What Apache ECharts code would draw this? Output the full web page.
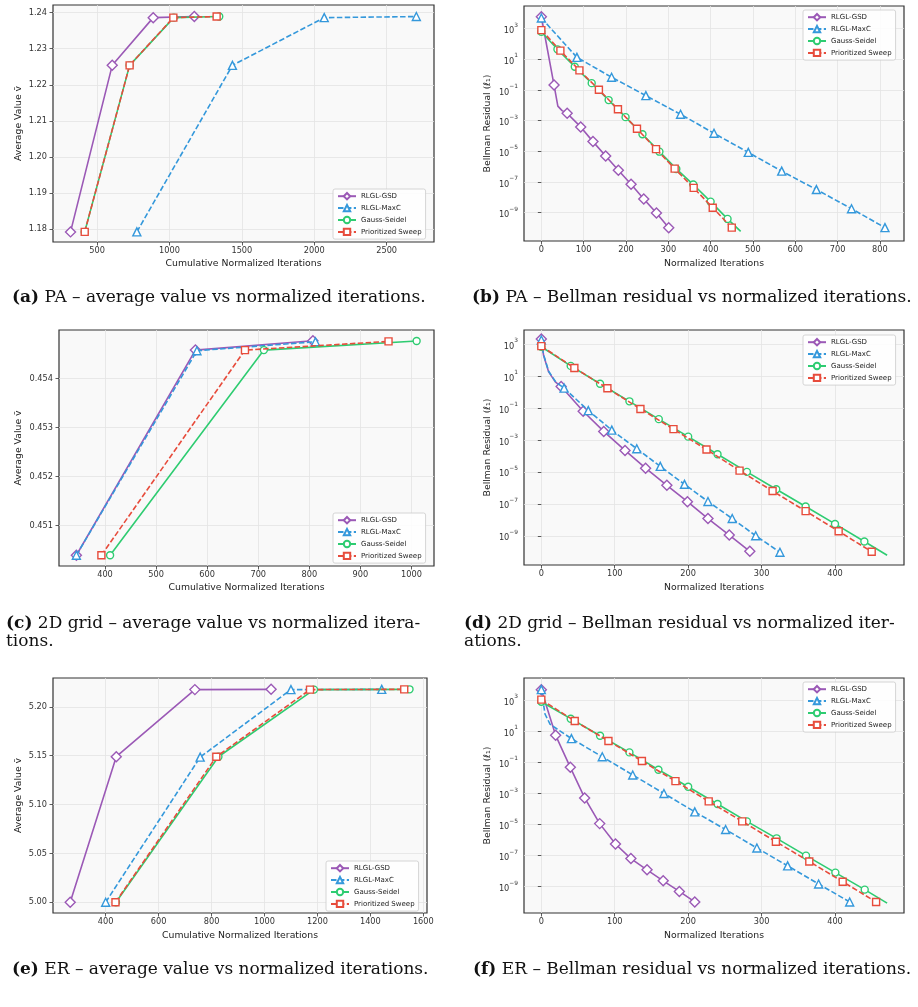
<!DOCTYPE html>
<html>
<head>
<meta charset="utf-8">
<script src="https://cdn.jsdelivr.net/npm/echarts@6/dist/echarts.min.js"></script>
<style>
    html, body { margin: 0; padding: 0; background: #fff; }
    #chart { width: 918px; height: 1007px; }
</style>
</head>
<body>
<div id="chart"></div>
<script type="text/javascript">
    // legend names
    var names = ['RLGL-GSD', 'RLGL-MaxC', 'Gauss-Seidel', 'Prioritized Sweep'];

    // (a) PA - average value vs cumulative normalized iterations
    var paAvgGsd  = [[317, 1.1793], [605, 1.2254], [888, 1.2386], [1172, 1.2389]];
    var paAvgMaxc = [[775, 1.1793], [1435, 1.2254], [2069, 1.2386], [2705, 1.2389]];
    var paAvgGs   = [[415, 1.1793], [725, 1.2254], [1030, 1.2386], [1344, 1.2389]];
    var paAvgPs   = [[415, 1.1793], [725, 1.2254], [1027, 1.2386], [1326, 1.2389]];

    // (b) PA - Bellman residual vs normalized iterations
    var paResGsd  = [[0, 6.0e3], [30, 2.1e-1], [61, 3.0e-3], [93, 3.9e-4], [122, 4.3e-5], [152, 5.0e-6],
                     [182, 5.8e-7], [212, 7.1e-8], [242, 7.8e-9], [272, 9.5e-10], [301, 1.05e-10]];
    var paResGsdTrace = [[39, 8.9e-3], [49, 4.5e-3]];
    var paResMaxc = [[0, 5.0e3], [84, 1.35e1], [166, 6.8e-1], [247, 4.3e-2], [329, 2.6e-3], [408, 1.5e-4],
                     [489, 8.5e-6], [568, 5.1e-7], [650, 3.2e-8], [733, 1.8e-9], [812, 1.05e-10]];
    var paResGs   = [[0, 6.3e2], [38, 4.5e1], [79, 3.3], [119, 2.8e-1], [159, 2.2e-2], [199, 1.7e-3],
                     [239, 1.3e-4], [279, 9.5e-6], [319, 7.1e-7], [359, 6.8e-8], [400, 5.2e-9], [440, 3.9e-10]];
    var paResGsTrace = [[471, 6.0e-11]];
    var paResPs   = [[0, 8.1e2], [45, 3.7e1], [90, 1.9], [136, 1.05e-1], [181, 5.5e-3], [226, 3.0e-4],
                     [271, 1.4e-5], [315, 7.4e-7], [360, 4.1e-8], [405, 2.1e-9], [450, 1.05e-10]];

    // (c) 2D grid - average value
    var gridAvgGsd  = [[344, 0.45039], [577, 0.454578], [807, 0.454769]];
    var gridAvgMaxc = [[344, 0.45039], [580, 0.454565], [812, 0.454748]];
    var gridAvgGs   = [[410, 0.45039], [711, 0.454578], [1010, 0.454762]];
    var gridAvgPs   = [[393, 0.45039], [674, 0.454578], [955, 0.454755]];

    // (d) 2D grid - Bellman residual
    var gridResGsd  = [[0, 2.1e3], [27, 2.2], [57, 6.2e-2], [85, 3.4e-3], [114, 2.2e-4], [142, 1.7e-5],
                       [171, 1.45e-6], [199, 1.35e-7], [227, 1.2e-8], [256, 1.1e-9], [284, 1.07e-10]];
    var gridResGsdTrace = [[3, 2.0e2], [10, 1.8e1], [19, 4.3]];
    var gridResMaxc = [[0, 1.8e3], [31, 1.75], [64, 6.8e-2], [96, 4.1e-3], [130, 2.8e-4], [162, 2.2e-5],
                       [195, 1.66e-6], [227, 1.4e-7], [260, 1.2e-8], [292, 1.0e-9], [325, 9.3e-11]];
    var gridResMaxcTrace = [[3, 2.2e2], [10, 2.0e1], [20, 4.0]];
    var gridResGs   = [[0, 6.8e2], [40, 4.3e1], [80, 3.3], [120, 2.6e-1], [160, 2.0e-2], [200, 1.6e-3],
                       [240, 1.26e-4], [280, 1.0e-5], [320, 8.1e-7], [360, 6.8e-8], [400, 5.5e-9], [440, 4.4e-10]];
    var gridResGsTrace = [[471, 6.0e-11]];
    var gridResPs   = [[0, 7.4e2], [45, 3.2e1], [90, 1.7], [135, 8.7e-2], [180, 4.7e-3], [225, 2.5e-4],
                       [270, 1.2e-5], [315, 6.3e-7], [360, 3.5e-8], [405, 1.9e-9], [450, 1.0e-10]];

    // (e) ER - average value
    var erAvgGsd  = [[266, 5.000], [440, 5.149], [737, 5.2177], [1025, 5.218]];
    var erAvgMaxc = [[400, 5.000], [757, 5.1486], [1100, 5.2177], [1443, 5.218]];
    var erAvgGs   = [[439, 5.000], [826, 5.149], [1187, 5.2177], [1548, 5.218]];
    var erAvgPs   = [[437, 5.000], [818, 5.149], [1172, 5.2177], [1528, 5.218]];

    // (f) ER - Bellman residual
    var erResGsd  = [[0, 4.8e3], [19.5, 5.5], [39.5, 4.8e-2], [59, 5.2e-4], [79.5, 1.15e-5], [101, 5.6e-7],
                     [122, 6.5e-8], [144, 1.23e-8], [166, 2.4e-9], [188, 5.0e-10], [209, 1.05e-10]];
    var erResMaxc = [[0, 4.8e3], [41, 3.4], [83, 2.3e-1], [124.5, 1.55e-2], [167, 1.0e-3], [209, 6.6e-5],
                     [251, 4.8e-6], [293.6, 3.1e-7], [335.5, 2.2e-8], [377.7, 1.5e-9], [420, 1.05e-10]];
    var erResMaxcTrace = [[5, 1.3e2], [12, 2.8e1]];
    var erResGs   = [[0, 7.9e2], [40, 6.5e1], [80, 5.2], [120, 4.4e-1], [159.5, 3.4e-2], [200, 2.7e-3],
                     [240, 2.1e-4], [280, 1.6e-5], [320.5, 1.3e-6], [360.5, 1.0e-7], [400.5, 8.1e-9], [440.5, 6.5e-10]];
    var erResGsTrace = [[471, 8.9e-11]];
    var erResPs   = [[0, 1.1e3], [45.5, 4.6e1], [91.4, 2.4], [137, 1.23e-1], [182.7, 6.2e-3], [228, 3.1e-4],
                     [273.6, 1.6e-5], [319.5, 7.9e-7], [365, 4.2e-8], [410.5, 2.1e-9], [456, 1.05e-10]];

    // tick labels
    var paAvgXTicks = [500, 1000, 1500, 2000, 2500];
    var paAvgYTicks = [1.18, 1.19, 1.20, 1.21, 1.22, 1.23, 1.24];
    var paResXTicks = [0, 100, 200, 300, 400, 500, 600, 700, 800];
    var gridAvgXTicks = [400, 500, 600, 700, 800, 900, 1000];
    var gridAvgYTicks = [0.451, 0.452, 0.453, 0.454];
    var resXTicks = [0, 100, 200, 300, 400];
    var erAvgXTicks = [400, 600, 800, 1000, 1200, 1400, 1600];
    var erAvgYTicks = [5.00, 5.05, 5.10, 5.15, 5.20];
    var logYTicks = [1e-9, 1e-7, 1e-5, 1e-3, 1e-1, 1e1, 1e3];

    var colors = ['#9b59b6', '#3498db', '#2ecc71', '#e74c3c'];
    var symbols = ['diamond', 'triangle', 'circle', 'rect'];
    var symbolSizes = [10, 8, 7, 7];
    var dashed = [false, true, false, true];
    var FONT = 'DejaVu Sans';

    var chart = echarts.init(document.getElementById('chart'), null, {renderer: 'canvas'});

    function makeSeries(gi, k, pts, trace) {
        var data = pts.map(function (p) { return {value: p}; });
        (trace || []).forEach(function (p) { data.push({value: p, symbol: 'none'}); });
        data.sort(function (a, b) { return a.value[0] - b.value[0]; });
        return {
            name: names[k], type: 'line', xAxisIndex: gi, yAxisIndex: gi, data: data,
            symbol: symbols[k], symbolSize: symbolSizes[k], showSymbol: true, showAllSymbol: true,
            lineStyle: {color: colors[k], width: 1.6, type: dashed[k] ? [5.5, 2.4] : 'solid'},
            itemStyle: {color: '#fff', borderColor: colors[k], borderWidth: 1.4},
            emphasis: {disabled: true}, z: 2 + k, animation: false
        };
    }

    function xAxis(gi, min, max, ticks, name, gap) {
        return {
            type: 'value', gridIndex: gi, min: min, max: max,
            name: name, nameLocation: 'middle', nameGap: gap,
            nameTextStyle: {fontFamily: FONT, fontSize: 9.3, color: '#222'},
            axisLine: {show: false},
            axisTick: {show: true, inside: false, length: 3.5, customValues: ticks, lineStyle: {color: '#333', width: 0.8}},
            axisLabel: {customValues: ticks, margin: 4.5, fontFamily: FONT, fontSize: 8.2, color: '#333',
                        formatter: function (v) { return String(Math.round(v)); }},
            splitLine: {show: true, lineStyle: {color: '#e3e3e3', width: 0.8}}
        };
    }

    function yAxis(gi, min, max, ticks, digits, name, gap) {
        return {
            type: 'value', gridIndex: gi, min: min, max: max,
            name: name, nameLocation: 'middle', nameGap: gap, nameRotate: 90,
            nameTextStyle: {fontFamily: FONT, fontSize: 9.3, color: '#222'},
            axisLine: {show: false},
            axisTick: {show: true, length: 3.5, customValues: ticks, lineStyle: {color: '#333', width: 0.8}},
            axisLabel: {customValues: ticks, margin: 6, fontFamily: FONT, fontSize: 8.2, color: '#333',
                        formatter: function (v) { return Number(v).toFixed(digits); }},
            splitLine: {show: true, lineStyle: {color: '#e3e3e3', width: 0.8}}
        };
    }

    function logAxis(gi, lo, hi, gap) {
        return {
            type: 'log', logBase: 10, gridIndex: gi, min: Math.pow(10, lo), max: Math.pow(10, hi),
            name: 'Bellman Residual (\u2113\u2081)', nameLocation: 'middle', nameGap: gap, nameRotate: 90,
            nameTextStyle: {fontFamily: FONT, fontSize: 9.3, color: '#222'},
            axisLine: {show: false},
            axisTick: {show: true, length: 3.5, customValues: logYTicks, lineStyle: {color: '#333', width: 0.8}},
            minorTick: {show: false},
            axisLabel: {
                customValues: logYTicks, margin: 6, color: '#333',
                formatter: function (v) {
                    var e = Math.round(Math.log10(v));
                    return '{b|10}{e|' + (e < 0 ? '\u2212' + (-e) : e) + '}';
                },
                rich: {
                    b: {fontFamily: FONT, fontSize: 8.2, color: '#333', lineHeight: 13, verticalAlign: 'bottom'},
                    e: {fontFamily: FONT, fontSize: 5.9, color: '#333', lineHeight: 13, verticalAlign: 'top'}
                }
            },
            splitLine: {show: true, lineStyle: {color: '#e3e3e3', width: 0.8}}
        };
    }

    function grid(left, top, width, height) {
        return {left: left, top: top, width: width, height: height, show: true,
                backgroundColor: '#f9f9f9', borderColor: '#333', borderWidth: 1.2, containLabel: false};
    }

    function legendAt(left, top) {
        return {
            data: names, orient: 'vertical', left: left, top: top,
            backgroundColor: 'rgba(255,255,255,0.85)', borderColor: '#cccccc', borderWidth: 0.8, borderRadius: 2,
            padding: [3, 4, 3, 4], itemGap: 3.5, itemWidth: 18, itemHeight: 8, selectedMode: false,
            textStyle: {fontFamily: FONT, fontSize: 7, color: '#222'}
        };
    }

    function caption(x, y, label, text) {
        return {
            type: 'text', x: x, y: y, silent: true,
            style: {
                text: (label ? '{b|' + label + '} ' : '') + text,
                font: '17px "DejaVu Serif"', fill: '#111', verticalAlign: 'middle', align: 'left',
                rich: {b: {fontWeight: 'bold', fontSize: 17, fontFamily: 'DejaVu Serif', fill: '#111'}}
            }
        };
    }

    var avgName = 'Average Value v\u0304';
    var cumName = 'Cumulative Normalized Iterations';
    var normName = 'Normalized Iterations';

    var series = [];
    [paAvgGsd, paAvgMaxc, paAvgGs, paAvgPs].forEach(function (d, k) { series.push(makeSeries(0, k, d)); });
    series.push(makeSeries(1, 0, paResGsd, paResGsdTrace));
    series.push(makeSeries(1, 1, paResMaxc));
    series.push(makeSeries(1, 2, paResGs, paResGsTrace));
    series.push(makeSeries(1, 3, paResPs));
    [gridAvgGsd, gridAvgMaxc, gridAvgGs, gridAvgPs].forEach(function (d, k) { series.push(makeSeries(2, k, d)); });
    series.push(makeSeries(3, 0, gridResGsd, gridResGsdTrace));
    series.push(makeSeries(3, 1, gridResMaxc, gridResMaxcTrace));
    series.push(makeSeries(3, 2, gridResGs, gridResGsTrace));
    series.push(makeSeries(3, 3, gridResPs));
    [erAvgGsd, erAvgMaxc, erAvgGs, erAvgPs].forEach(function (d, k) { series.push(makeSeries(4, k, d)); });
    series.push(makeSeries(5, 0, erResGsd));
    series.push(makeSeries(5, 1, erResMaxc, erResMaxcTrace));
    series.push(makeSeries(5, 2, erResGs, erResGsTrace));
    series.push(makeSeries(5, 3, erResPs));

    chart.setOption({
        backgroundColor: '#ffffff',
        animation: false,
        grid: [
            grid(53, 5, 381, 237),
            grid(524, 6, 380, 235),
            grid(59, 330, 375, 236),
            grid(524, 330, 380, 235),
            grid(53, 678, 374, 235),
            grid(524, 678, 380, 235)
        ],
        xAxis: [
            xAxis(0, 196, 2827, paAvgXTicks, cumName, 17.5),
            xAxis(1, -41, 857, paResXTicks, normName, 18.5),
            xAxis(2, 310, 1044, gridAvgXTicks, cumName, 17),
            xAxis(3, -23.6, 494, resXTicks, normName, 18),
            xAxis(4, 201, 1614, erAvgXTicks, cumName, 18),
            xAxis(5, -23.6, 494, resXTicks, normName, 18)
        ],
        yAxis: [
            yAxis(0, 1.1765, 1.2421, paAvgYTicks, 2, avgName, 30),
            logAxis(1, -10.85, 4.48, 32),
            yAxis(2, 0.450171, 0.454988, gridAvgYTicks, 3, avgName, 36),
            logAxis(3, -10.83, 3.88, 32),
            yAxis(4, 4.989, 5.2296, erAvgYTicks, 2, avgName, 30),
            logAxis(5, -10.69, 4.43, 32)
        ],
        legend: [
            legendAt(333, 189),
            legendAt(803, 10),
            legendAt(333, 513),
            legendAt(803, 335),
            legendAt(326, 861),
            legendAt(803, 682)
        ],
        graphic: [
            caption(12, 298, '(a)', 'PA \u2013 average value vs normalized iterations.'),
            caption(472, 298, '(b)', 'PA \u2013 Bellman residual vs normalized iterations.'),
            caption(6, 624, '(c)', '2D grid \u2013 average value vs normalized itera-'),
            caption(6, 642, '', 'tions.'),
            caption(464, 624, '(d)', '2D grid \u2013 Bellman residual vs normalized iter-'),
            caption(464, 642, '', 'ations.'),
            caption(12, 970, '(e)', 'ER \u2013 average value vs normalized iterations.'),
            caption(473, 970, '(f)', 'ER \u2013 Bellman residual vs normalized iterations.')
        ],
        series: series
    });
</script>
</body>
</html>
